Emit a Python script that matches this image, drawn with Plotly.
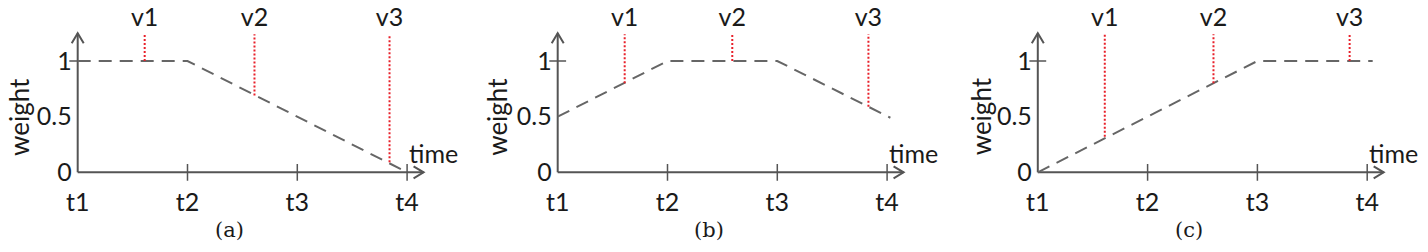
import plotly.graph_objects as go

# ---------------- data ----------------
T_TICKS = [1, 2, 3, 4]
T_LABELS = ["t1", "t2", "t3", "t4"]
W_TICKS = [0, 0.5, 1]
W_LABELS = ["0", "0.5", "1"]
V_LABELS = ["v1", "v2", "v3"]
CAPTIONS = ["(a)", "(b)", "(c)"]

curve_a_t = [1, 2, 4]
curve_a_w = [1, 1, 0]
curve_b_t = [1, 2, 3, 4.03]
curve_b_w = [0.5, 1, 1, 0.49]
curve_c_t = [1, 3, 4.05]
curve_c_w = [0, 1, 1]

v_a_t = [1.61, 2.61, 3.84]
v_a_w = [1.0, 0.69, 0.09]
v_b_t = [1.61, 2.59, 3.83]
v_b_w = [0.80, 1.0, 0.59]
v_c_t = [1.61, 2.60, 3.84]
v_c_w = [0.32, 0.80, 1.0]

CURVES = [(curve_a_t, curve_a_w), (curve_b_t, curve_b_w), (curve_c_t, curve_c_w)]
VLINES = [(v_a_t, v_a_w), (v_b_t, v_b_w), (v_c_t, v_c_w)]

# ---------------- layout / style ----------------
W, H = 1428, 252
ORIGIN_PX = [77.7, 557.7, 1037.8]
XSCALE = 109.8
Y0_PX = 172.3
YSCALE = 111.3
XR = (0.3, 4.55)
YR = (-0.6, 1.5)
X_TIP = 4.15
Y_TIP = 1.249
RED_TOP = 1.24
ARROW_DX = 10 / XSCALE
ARROW_DY = 6 / YSCALE
LABEL_Y = 1.37
TIME_POS = (4.24, 0.17)
WEIGHT_X = [0.46, 0.44, 0.48]
CAPTION_POS = (2.38, -0.52)

AXIS_COLOR = "#555555"
CURVE_COLOR = "#666666"
RED = "#e8202a"
TEXT_COLOR = "#1a1a1a"
FONT = "Lato"
FS = 25

fig = go.Figure()

ydom = [(H - (Y0_PX + (-YR[0]) * YSCALE)) / H, (H - (Y0_PX - YR[1] * YSCALE)) / H]

annotations = []
for i in range(3):
    sfx = "" if i == 0 else str(i + 1)
    xa, ya = "x" + sfx, "y" + sfx
    ox = ORIGIN_PX[i]
    xdom = [(ox + (XR[0] - 1) * XSCALE) / W, (ox + (XR[1] - 1) * XSCALE) / W]

    fig.update_layout(**{
        "xaxis" + sfx: dict(domain=xdom, range=list(XR), anchor="free",
                            position=(H - Y0_PX) / H,
                            tickvals=T_TICKS, ticktext=T_LABELS,
                            showgrid=False, zeroline=False, showline=False, ticks="",
                            ticklabelstandoff=13,
                            tickfont=dict(family=FONT, size=FS, color=TEXT_COLOR)),
        "yaxis" + sfx: dict(domain=ydom, range=list(YR), anchor="free",
                            position=ox / W,
                            tickvals=W_TICKS, ticktext=W_LABELS,
                            showgrid=False, zeroline=False, showline=False, ticks="",
                            ticklabelstandoff=6,
                            tickfont=dict(family=FONT, size=FS, color=TEXT_COLOR)),
    })

    axis_line = dict(color=AXIS_COLOR, width=2)
    fig.add_trace(go.Scatter(x=[T_TICKS[0], X_TIP], y=[0, 0], mode="lines", line=axis_line,
                             xaxis=xa, yaxis=ya, showlegend=False, hoverinfo="skip"))
    fig.add_trace(go.Scatter(x=[T_TICKS[0], T_TICKS[0]], y=[0, Y_TIP], mode="lines", line=axis_line,
                             xaxis=xa, yaxis=ya, showlegend=False, hoverinfo="skip"))
    fig.add_trace(go.Scatter(x=[X_TIP - ARROW_DX, X_TIP, X_TIP - ARROW_DX],
                             y=[ARROW_DY, 0, -ARROW_DY], mode="lines", line=axis_line,
                             xaxis=xa, yaxis=ya, showlegend=False, hoverinfo="skip"))
    fig.add_trace(go.Scatter(x=[1 - ARROW_DY * YSCALE / XSCALE, 1, 1 + ARROW_DY * YSCALE / XSCALE],
                             y=[Y_TIP - ARROW_DX * XSCALE / YSCALE, Y_TIP, Y_TIP - ARROW_DX * XSCALE / YSCALE],
                             mode="lines", line=axis_line,
                             xaxis=xa, yaxis=ya, showlegend=False, hoverinfo="skip"))
    fig.add_trace(go.Scatter(x=T_TICKS[1:], y=[0] * 3, mode="markers",
                             marker=dict(symbol="line-ns", size=12, line=dict(color=AXIS_COLOR, width=1.5)),
                             xaxis=xa, yaxis=ya, showlegend=False, hoverinfo="skip"))
    fig.add_trace(go.Scatter(x=[T_TICKS[0]], y=[W_TICKS[-1]], mode="markers",
                             marker=dict(symbol="line-ew", size=12, line=dict(color=AXIS_COLOR, width=1.5)),
                             xaxis=xa, yaxis=ya, showlegend=False, hoverinfo="skip"))

    ct, cw = CURVES[i]
    fig.add_trace(go.Scatter(x=ct, y=cw, mode="lines",
                             line=dict(color=CURVE_COLOR, width=2, dash="13px,8px"),
                             xaxis=xa, yaxis=ya, showlegend=False, hoverinfo="skip"))

    vt, vw = VLINES[i]
    for t, w in zip(vt, vw):
        fig.add_trace(go.Scatter(x=[t, t], y=[w, RED_TOP], mode="lines",
                                 line=dict(color=RED, width=2, dash="2px,2px"),
                                 xaxis=xa, yaxis=ya, showlegend=False, hoverinfo="skip"))
    fig.add_trace(go.Scatter(x=vt, y=[LABEL_Y] * len(vt), mode="text", text=V_LABELS,
                             textposition="middle center",
                             textfont=dict(family=FONT, size=FS, color=TEXT_COLOR),
                             xaxis=xa, yaxis=ya, showlegend=False, hoverinfo="skip", cliponaxis=False))

    annotations.append(dict(x=TIME_POS[0], y=TIME_POS[1], xref=xa, yref=ya, text="time",
                            showarrow=False, font=dict(family=FONT, size=FS, color=TEXT_COLOR)))
    annotations.append(dict(x=WEIGHT_X[i], y=0.5, xref=xa, yref=ya, text="weight", textangle=-90,
                            showarrow=False, borderpad=0,
                            font=dict(family=FONT, size=26, color=TEXT_COLOR)))
    annotations.append(dict(x=CAPTION_POS[0], y=CAPTION_POS[1], xref=xa, yref=ya, text=CAPTIONS[i],
                            showarrow=False, font=dict(family="DejaVu Serif", size=21, color=TEXT_COLOR)))

fig.update_layout(width=W, height=H, margin=dict(l=0, r=0, t=0, b=0),
                  paper_bgcolor="white", plot_bgcolor="white",
                  annotations=annotations, showlegend=False)

fig.write_html("out.html")
